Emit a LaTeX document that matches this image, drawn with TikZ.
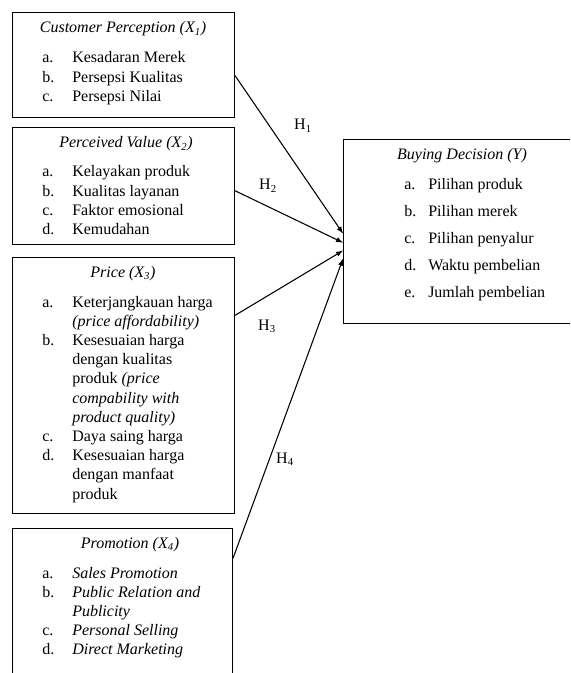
\documentclass[tikz,border=0pt]{standalone}
\usepackage{fontspec}
\setmainfont{Liberation Serif}
\usepackage{tikz}
\usetikzlibrary{calc,positioning,arrows}

\begin{document}
\begin{tikzpicture}[x=0.75pt,y=-0.75pt,>=latex,
  every node/.style={font=\fontsize{12}{14.4}\selectfont},
  box/.style={draw,line width=.8pt,inner sep=0pt,anchor=north west},
  ttl/.style={inner sep=0pt,anchor=base,font=\fontsize{12}{14.4}\selectfont\itshape},
  lst/.style={inner sep=0pt,anchor=base west},
  hyp/.style={inner sep=0pt,anchor=base},
  link/.style={->,line width=.8pt}]
  \useasboundingbox (0,0) rectangle (570,673);
  \clip (0,0) rectangle (570,673);

  \node[box,minimum width=166.5pt,minimum height=78.75pt] (cp) at (12,12) {};
  \node[box,minimum width=166.5pt,minimum height=87.75pt] (pv) at (12,127) {};
  \node[box,minimum width=166.5pt,minimum height=192pt] (pr) at (12,257) {};
  \node[box,minimum width=165pt,minimum height=129pt] (pm) at (12,528) {};
  \node[box,minimum width=192.75pt,minimum height=138pt] (bd) at (343,139) {};

  \node[ttl] (cpt) at (123,33) {Customer Perception (X\textsubscript{1})};
  \node[ttl] (pvt) at (126,148) {Perceived Value (X\textsubscript{2})};
  \node[ttl] (prt) at (123,277) {Price (X\textsubscript{3})};
  \node[ttl] (pmt) at (130,548) {Promotion (X\textsubscript{4})};
  \node[ttl] (bdt) at (462,160) {Buying Decision (Y)};

  \node[lst] (cpl) at (42,63) {\begin{tabular}[t]{@{}p{22.5pt}@{}l@{}}
    a. & Kesadaran Merek\\
    b. & Persepsi Kualitas\\
    c. & Persepsi Nilai
  \end{tabular}};
  \node[lst] (pvl) at (42,177) {\begin{tabular}[t]{@{}p{22.5pt}@{}l@{}}
    a. & Kelayakan produk\\
    b. & Kualitas layanan\\
    c. & Faktor emosional\\
    d. & Kemudahan
  \end{tabular}};
  \node[lst] (prl) at (42,307) {\begin{tabular}[t]{@{}p{22.5pt}@{}l@{}}
    a. & Keterjangkauan harga\\
       & \textit{(price affordability)}\\
    b. & Kesesuaian harga\\
       & dengan kualitas\\
       & produk \textit{(price}\\
       & \textit{compability with}\\
       & \textit{product quality)}\\
    c. & Daya saing harga\\
    d. & Kesesuaian harga\\
       & dengan manfaat\\
       & produk
  \end{tabular}};
  \node[lst] (pml) at (42,578) {\begin{tabular}[t]{@{}p{22.5pt}@{}l@{}}
    a. & \textit{Sales Promotion}\\
    b. & \textit{Public Relation and}\\
       & \textit{Publicity}\\
    c. & \textit{Personal Selling}\\
    d. & \textit{Direct Marketing}
  \end{tabular}};
  \node[lst] (bdl) at (404,190) {\renewcommand{\arraystretch}{1.406}\begin{tabular}[t]{@{}p{18pt}@{}l@{}}
    a. & Pilihan produk\\
    b. & Pilihan merek\\
    c. & Pilihan penyalur\\
    d. & Waktu pembelian\\
    e. & Jumlah pembelian
  \end{tabular}};

  \draw[link] ($(cp.north east)!.6!(cp.south east)$) -- ($(bd.north west)!.511!(bd.south west)$);
  \draw[link] ($(pv.north east)!.54!(pv.south east)$) -- ($(bd.north west)!.56!(bd.south west)$);
  \draw[link] ($(pr.north east)!.227!(pr.south east)$) -- ($(bd.north west)!.603!(bd.south west)$);
  \draw[link] ($(pm.north east)!.174!(pm.south east)$) -- ($(bd.north west)!.647!(bd.south west)$);

  \node[hyp] (h1) at (303,130) {H\textsubscript{1}};
  \node[hyp] (h2) at (268,190) {H\textsubscript{2}};
  \node[hyp] (h3) at (267,330) {H\textsubscript{3}};
  \node[hyp] (h4) at (285,463) {H\textsubscript{4}};
\end{tikzpicture}
\end{document}
